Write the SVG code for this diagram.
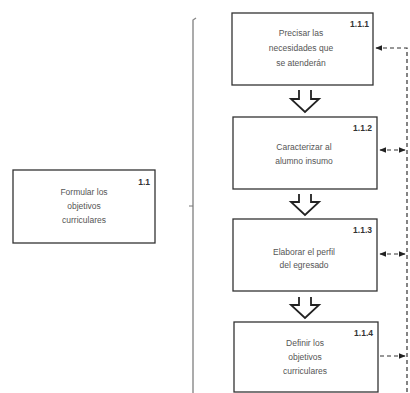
<svg xmlns="http://www.w3.org/2000/svg" width="410" height="393" viewBox="0 0 410 393">
  <defs>
    <marker id="ah" viewBox="0 0 10 8" refX="9" refY="4" markerWidth="7" markerHeight="5.5" orient="auto-start-reverse" markerUnits="userSpaceOnUse">
      <path d="M0,0 L10,4 L0,8 Z" fill="#222"/>
    </marker>
    <style>
      .box { fill: #fff; stroke: #333; stroke-width: 1.3; }
      .txt { font-family: "Liberation Sans", Arial, sans-serif; font-size: 8.5px; fill: #555; text-anchor: middle; }
      .num { font-family: "Liberation Sans", Arial, sans-serif; font-size: 8.5px; fill: #333; font-weight: bold; text-anchor: end; }
      .dash { fill: none; stroke: #333; stroke-width: 1.2; stroke-dasharray: 4 3; }
      .flow { fill: #fff; stroke: #222; stroke-width: 1.8; stroke-linejoin: miter; }
      .bar { fill: none; stroke: #888; stroke-width: 1.4; }
    </style>
  </defs>
  <rect width="410" height="393" fill="#fff"/>

  <g id="node-1-1">
    <rect class="box" x="13" y="170" width="142" height="73"/>
    <text class="num" x="150" y="185">1.1</text>
    <text class="txt" x="84" y="195">Formular los</text>
    <text class="txt" x="84" y="209">objetivos</text>
    <text class="txt" x="84" y="223">curriculares</text>
  </g>

  <g id="bracket">
    <path class="bar" d="M196,18 L193,20 L193,393"/>
    <path d="M189,206 L193,206" stroke="#777" stroke-width="1"/>
  </g>

  <g id="node-1-1-1">
    <rect class="box" x="232" y="13" width="141" height="72"/>
    <text class="num" x="369" y="27">1.1.1</text>
    <text class="txt" x="301" y="36">Precisar las</text>
    <text class="txt" x="301" y="51">necesidades que</text>
    <text class="txt" x="301" y="66">se atenderán</text>
  </g>

  <g id="node-1-1-2">
    <rect class="box" x="233" y="117" width="144" height="72"/>
    <text class="num" x="372" y="131">1.1.2</text>
    <text class="txt" x="304" y="150">Caracterizar al</text>
    <text class="txt" x="304" y="164">alumno insumo</text>
  </g>

  <g id="node-1-1-3">
    <rect class="box" x="233" y="219" width="144" height="72"/>
    <text class="num" x="372" y="233">1.1.3</text>
    <text class="txt" x="304" y="255">Elaborar el perfil</text>
    <text class="txt" x="304" y="268">del egresado</text>
  </g>

  <g id="node-1-1-4">
    <rect class="box" x="234" y="322" width="144" height="70"/>
    <text class="num" x="373" y="336">1.1.4</text>
    <text class="txt" x="305" y="346">Definir los</text>
    <text class="txt" x="305" y="360">objetivos</text>
    <text class="txt" x="305" y="374">curriculares</text>
  </g>

  <g id="connectors">
    <!-- hollow flow arrows between steps -->
    <path class="flow" d="M299,90 L299,99 L291,99 L305,112 L319,99 L311,99 L311,90"/>
    <path class="flow" d="M299,194 L299,202 L291,202 L305,215 L319,202 L311,202 L311,194"/>
    <path class="flow" d="M299,297 L299,305 L291,305 L305,318 L319,305 L311,305 L311,297"/>

    <!-- feedback loop on the right -->
    <path class="dash" d="M407,392 L407,48 L376,48" marker-end="url(#ah)"/>
    <line class="dash" x1="380" y1="150" x2="405" y2="150" marker-start="url(#ah)" marker-end="url(#ah)"/>
    <line class="dash" x1="380" y1="254" x2="405" y2="254" marker-start="url(#ah)" marker-end="url(#ah)"/>
    <line class="dash" x1="380" y1="356" x2="405" y2="356" marker-end="url(#ah)"/>
  </g>
</svg>
